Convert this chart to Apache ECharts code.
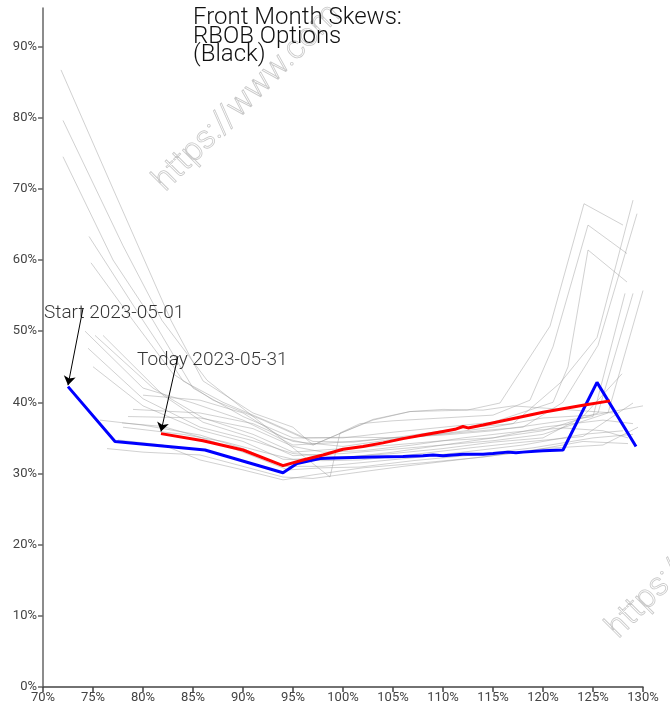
<!DOCTYPE html>
<html>
<head>
<meta charset="utf-8">
<script src="https://cdn.jsdelivr.net/npm/echarts@6/dist/echarts.min.js"></script>
<style>
html,body{margin:0;padding:0;background:#fff;}
#chart{width:670px;height:719px;}
</style>
</head>
<body>
<div id="chart"></div>
<script>
// ---- data (moneyness %, implied vol %) ----
const titleText = 'Front Month Skews:\nRBOB Options\n(Black)';
const xTicks = [70, 75, 80, 85, 90, 95, 100, 105, 110, 115, 120, 125, 130];
const yTicks = [0, 10, 20, 30, 40, 50, 60, 70, 80, 90];

const startLabel = 'Start 2023-05-01';
const todayLabel = 'Today 2023-05-31';

const startCurve = [[72.5,42.2],[77.2,34.5],[86.2,33.3],[94,30.1],[95.4,31.4],[97.7,32.1],[100,32.2],[103,32.3],[106,32.4],[108,32.5],[109,32.6],[110,32.5],[112,32.7],[114,32.7],[115,32.8],[116.5,33.0],[117.3,32.9],[118,33.0],[120,33.2],[122,33.3],[125.4,42.8],[129.3,33.8]];
const todayCurve = [[81.8,35.6],[86,34.6],[90,33.3],[94,31.1],[96,31.9],[98,32.6],[100,33.4],[102,33.8],[104,34.3],[106,34.9],[108,35.4],[110,35.9],[111.2,36.2],[112,36.6],[112.5,36.4],[114,36.8],[116,37.4],[118,38.0],[120,38.6],[122,39.1],[124,39.6],[126.7,40.2]];

const g1 = [[71.8,86.7],[77,70],[82.8,51.5],[86,43],[91,38.5],[95,36.5],[97,34],[100,35.8],[103,37.5],[106.7,38.7],[112.4,38.9],[115.7,39.9],[120.7,50.7],[124.1,67.9],[128,64.9]];
const g2 = [[72,79.6],[78,62],[81.9,51.5],[86.4,43.1],[98.7,29.5],[99.7,35.7],[101.7,37],[105,37.4],[110,37.8],[115,38.2],[118.7,40.3],[121,47.8],[124.5,64.9],[128.4,60.9]];
const g3 = [[72,74.5],[77,60],[81,51.5],[85,42],[90,38],[95,35],[100,35],[105,35.8],[110,36.5],[115,37.2],[121,40],[122.5,45],[124.5,61.4],[128.4,56.9]];
const g4 = [[74.6,63.3],[80,51.5],[84,43],[88,40],[93,37],[97,34.5],[101,34.4],[106,35.2],[112,36.4],[117,37],[121.7,42.7],[125.4,49.1],[129,68.4]];
const g5 = [[74.8,59.6],[79,51.5],[83,44],[87,40.3],[92,37.5],[96,35],[101,35.1],[106,35],[112,35.8],[118,36.5],[122,40],[125.5,48],[129.4,66.5]];
const g6 = [[74.2,50],[80,42],[85,39.9],[90,37.5],[95,34],[100,34.4],[105,35],[110,35.4],[115,36],[120,37],[125,38],[128.2,55.3]];
const g7 = [[75.2,49.4],[81,42],[86,37.8],[91,35.5],[95,33],[100,33.5],[105,34],[110,34.6],[115,35],[120,36],[125.5,38.5],[129,55.3]];
const g8 = [[76,49.4],[82,41],[86,37.2],[91,35],[95,32.5],[100,32.8],[105,33.4],[110,34],[115,34.6],[120,35.5],[126.5,38.5],[130,55.7]];
const g9 = [[74.5,47.6],[80,40.5],[85.7,36.5],[91,34.6],[95,32.8],[100,32.3],[105,32.8],[110,33.5],[115,34.4],[120,35],[124,38],[127.9,44]];
const g10 = [[75,45],[80,39.5],[85.7,36.1],[90,34.5],[94,32],[98,31.8],[101.7,31.9],[106,32.5],[112.7,33.6],[118,34.4],[124,35.2],[129,39.9]];
const g11 = [[75.7,37.5],[80,36.8],[85.7,35.4],[90,33.5],[94,31],[98,31],[101.7,31.5],[107,32.2],[112,33],[118,34],[124,35.5],[128,36]];
const g12 = [[77.9,37.1],[82,36.6],[85.7,35.1],[90,33],[94.5,30.5],[98,30.8],[101.7,30.9],[107,31.8],[113,32.6],[119,33.6],[125,35],[129,35.5]];
const g13 = [[76.4,33.5],[80,33],[85.7,32.6],[90,31],[94,29.5],[97,29.3],[101.7,30.2],[106,31],[112,32],[118,33],[124,34.5],[128.5,34.2]];
const g14 = [[77.5,34.7],[82,34],[85.7,31.9],[90,30.5],[94,29.1],[97,29.8],[102,30.8],[108,31.5],[114,32.3],[120,33.5],[126,34],[129.5,36.5]];
const g15 = [[78,36.5],[84,35.5],[88,34.5],[92,33],[95,32],[100,32.2],[105,33],[110,34],[115,35],[120,36.5],[126,37.5],[129,37]];
const g16 = [[80,41],[85.7,40.3],[90,38.5],[94,35],[97,34],[100,35.8],[103,37.6],[106.7,38.7],[110,39],[114,38.9],[117,39.5],[122,39],[127,38.5]];
const g17 = [[79,39],[85.7,38.5],[91,37],[95,34.5],[100,33.8],[105,34.8],[110,35.6],[115,36.5],[120,37.8],[125,38.2],[130,39.5]];
const g18 = [[78.5,38],[85.7,37.8],[91,36.3],[95,33.8],[98,33],[102,33.2],[107,34],[112,35],[117,35.8],[122,36.4],[126,36],[128.5,35]];
const grayCurves = [g1,g2,g3,g4,g5,g6,g7,g8,g9,g10,g11,g12,g13,g14,g15,g16,g17,g18];

// annotation anchors (data coords)
const startTextPos = [70.1, 52.5];
const startArrow = [[74.0, 53.2], [72.5, 42.4]];
const todayTextPos = [79.4, 45.9];
const todayArrow = [[83.5, 46.5], [81.8, 35.9]];

const FONT = 'Roboto';

const chart = echarts.init(document.getElementById('chart'), null, {renderer: 'canvas'});

const series = [];
grayCurves.forEach((c, i) => {
  series.push({
    type: 'line', data: c, showSymbol: false, symbol: 'none', silent: true,
    lineStyle: {color: '#999', width: 1, opacity: 0.45}, z: 2
  });
});
series.push({
  type: 'line', name: 'start', data: startCurve, symbol: 'none', silent: true,
  lineStyle: {color: '#0000ff', width: 3}, z: 4
});
series.push({
  type: 'line', name: 'today', data: todayCurve, symbol: 'none', silent: true,
  lineStyle: {color: '#ff0000', width: 3}, z: 5
});
function annot(pos, text, arrow) {
  return {
    type: 'scatter', data: [pos], symbolSize: 0, silent: true, z: 6,
    label: {show: true, position: 'right', distance: 0, formatter: text,
      fontFamily: FONT, fontWeight: 300, fontSize: 19, color: '#000'},
    markLine: {
      silent: true, animation: false,
      symbol: ['none', 'arrow'], symbolSize: 9,
      label: {show: false},
      lineStyle: {color: '#000', width: 1, type: 'solid'},
      data: [[{coord: arrow[0]}, {coord: arrow[1]}]]
    }
  };
}
series.push(annot(startTextPos, startLabel, startArrow));
series.push(annot(todayTextPos, todayLabel, todayArrow));

const wmStyle = {fill: 'rgba(255,255,255,0)', stroke: '#c8c8c8', lineWidth: 0.8,
  font: '300 33px Roboto', textAlign: 'left', textVerticalAlign: 'bottom'};

chart.setOption({
  animation: false,
  backgroundColor: '#fff',
  grid: {left: 43, right: 27, top: 8, bottom: 32, containLabel: false},
  title: {
    text: titleText, left: 193, top: 9, padding: 0,
    textStyle: {fontFamily: FONT, fontWeight: 300, fontSize: 24, lineHeight: 18.5, color: '#111'}
  },
  xAxis: {
    type: 'value', min: 70, max: 130, interval: 5,
    axisLine: {show: true, onZero: false, lineStyle: {color: '#444', width: 1.5}},
    axisTick: {show: true, length: 5, lineStyle: {color: '#444', width: 1.5}},
    splitLine: {show: false},
    axisLabel: {formatter: '{value}%', fontFamily: FONT, fontSize: 13, color: '#444', margin: 4}
  },
  yAxis: {
    type: 'value', min: 0, max: 95.4, interval: 10,
    axisLine: {show: true, lineStyle: {color: '#666', width: 1.5}},
    axisTick: {show: true, length: 5, lineStyle: {color: '#666', width: 1.5}},
    splitLine: {show: false},
    axisLabel: {formatter: '{value}%', fontFamily: FONT, fontSize: 13, color: '#444', margin: 6, showMaxLabel: false}
  },
  graphic: [
    {type: 'text', x: 171, y: 198, rotation: Math.PI / 4, silent: true, z: 1,
      style: Object.assign({text: 'https://www.com'}, wmStyle)},
    {type: 'text', x: 624, y: 645, rotation: Math.PI / 4, silent: true, z: 1,
      style: Object.assign({text: 'https://www.com'}, wmStyle)}
  ],
  series: series
});
</script>
</body>
</html>
